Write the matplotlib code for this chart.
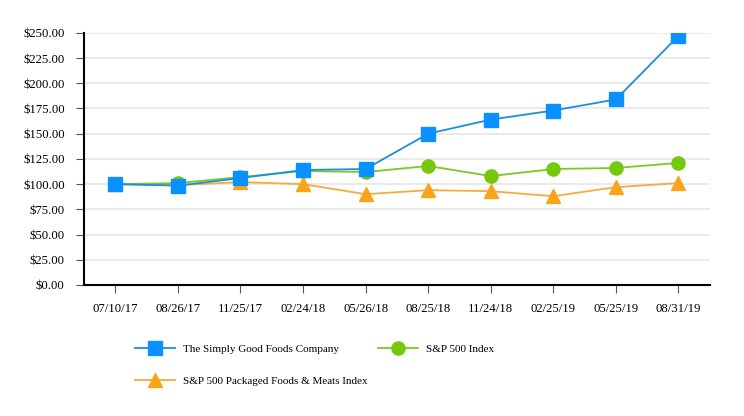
import matplotlib
matplotlib.use("Agg")
import matplotlib.pyplot as plt
from matplotlib.ticker import FuncFormatter

dates = ["07/10/17", "08/26/17", "11/25/17", "02/24/18", "05/26/18",
         "08/25/18", "11/24/18", "02/25/19", "05/25/19", "08/31/19"]
simply_good = [100, 98.5, 106, 114, 115, 150, 164, 173, 184, 247]
sp500 = [100, 101, 107, 113, 112, 118, 108, 115, 116, 121]
packaged = [100, 99, 102, 100, 90, 94, 93, 88, 97, 101]
yticks = [0, 25, 50, 75, 100, 125, 150, 175, 200, 225, 250]

plt.rcParams['font.family'] = ['Liberation Serif', 'DejaVu Serif']

fig = plt.figure(figsize=(7.44, 4.16), dpi=100)
ax = fig.add_axes([0.113, 0.315, 0.841, 0.606])

x = list(range(len(dates)))
h1, = ax.plot(x, simply_good, color='#1a8fe0', lw=1.3, marker='s', ms=9.5,
              mfc='#0a90ff', mec='#0a90ff', label='The Simply Good Foods Company', zorder=5)
h2, = ax.plot(x, sp500, color='#7dc823', lw=1.3, marker='o', ms=9.5,
              mfc='#76c80f', mec='#76c80f', label='S&P 500 Index', zorder=4)
h3, = ax.plot(x, packaged, color='#f5ac3a', lw=1.3, marker='^', ms=9.5,
              mfc='#f8a51c', mec='#f8a51c', label='S&P 500 Packaged Foods & Meats Index', zorder=3)

ax.set_xlim(-0.5, len(dates) - 0.5)
ax.set_ylim(0, 250)
ax.set_yticks(yticks)
ax.yaxis.set_major_formatter(FuncFormatter(lambda v, p: f"${v:.2f}"))
ax.set_xticks(x)
ax.set_xticklabels(dates)
ax.grid(axis='y', color='#e6e6e6', lw=1.2)
ax.set_axisbelow(True)
for s in ['top', 'right']:
    ax.spines[s].set_visible(False)
ax.spines['left'].set_linewidth(1.5)
ax.spines['bottom'].set_linewidth(1.5)
ax.tick_params(axis='y', length=6, width=0.8, colors='#555555', labelcolor='black', labelsize=9.2, pad=8)
ax.tick_params(axis='x', length=6, width=0.8, colors='#555555', labelcolor='black', labelsize=9.2, pad=7)

fig.legend([h1, h3, h2], [h1.get_label(), h3.get_label(), h2.get_label()],
           ncol=2, loc='upper left', bbox_to_anchor=(0.181, 0.173),
           frameon=False, fontsize=8, handlelength=3.6, handletextpad=0.72,
           labelspacing=2.0, columnspacing=1.0, borderaxespad=0, borderpad=0)

fig.savefig("out.png", dpi=100)
